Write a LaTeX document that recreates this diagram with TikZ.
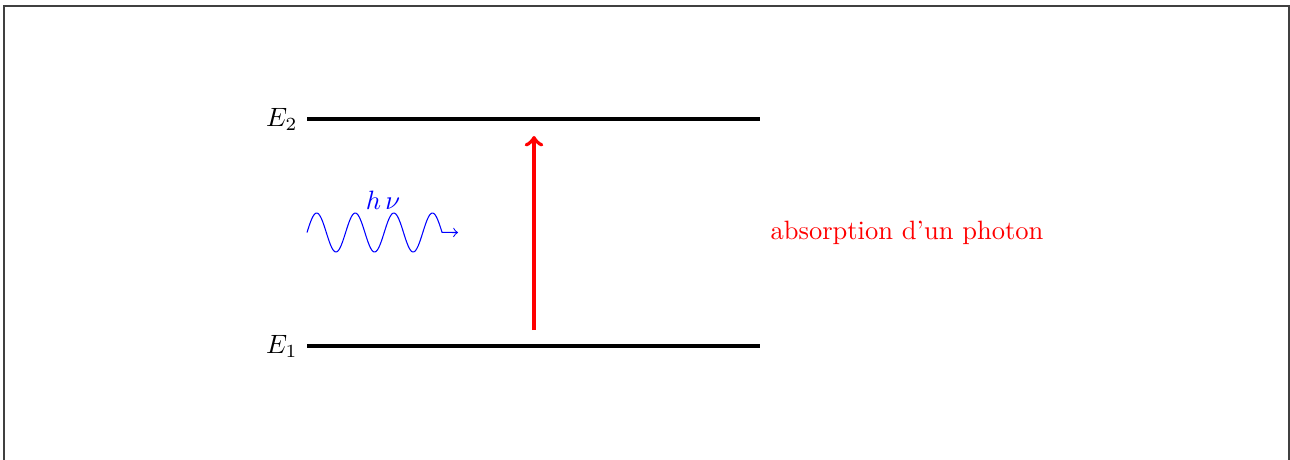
\documentclass[tikz,border=0pt]{standalone}
\begin{document}
\begin{tikzpicture}[x=0.377pt,y=-0.377pt,
  level/.style={line width=1.5pt,black},
  absorb/.style={line width=1.5pt,red,->},
  wave/.style={blue,->,line width=0.4pt},
  frame/.style={draw=black!75,line width=0.4pt}]
\useasboundingbox (0,0) rectangle (1290,459);
\draw[frame] (4,6) rectangle (1289,490);
\coordinate (a2) at (307,119);
\coordinate (b2) at (760,119);
\coordinate (a1) at (307,346);
\coordinate (b1) at (760,346);
\draw[level] (a2) -- (b2);
\draw[level] (a1) -- (b1);
\node[anchor=east] (e2) at (a2) {$E_2$};
\node[anchor=east] (e1) at (a1) {$E_1$};
\coordinate (r1) at (534,330);
\coordinate (r2) at (534,136);
\draw[absorb] (r1) -- (r2);
\coordinate (wend) at (458,232.5);
\draw[wave] plot[domain=0:3.5,samples=120,smooth] ({307+38.6*\x},{232.5-19.5*sin(360*\x)}) -- (wend);
\node[blue] (hnu) at (383,200) {$h\,\nu$};
\node[red,anchor=west,inner sep=0pt] (txt) at (770,233) {absorption d'un photon};
\end{tikzpicture}
\end{document}
